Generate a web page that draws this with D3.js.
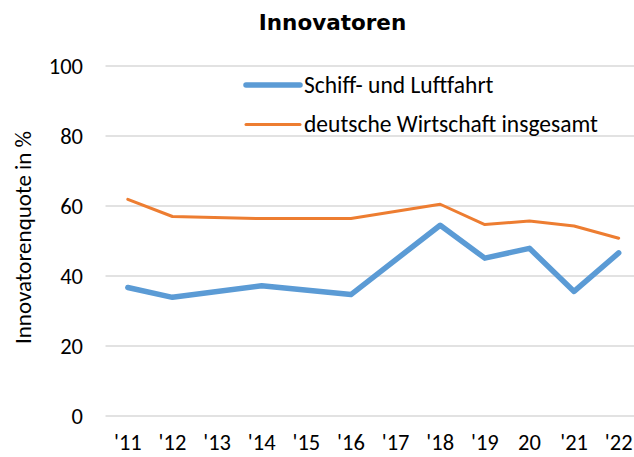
<!DOCTYPE html>
<html>
<head>
<meta charset="utf-8">
<script src="https://cdn.jsdelivr.net/npm/d3@7"></script>
<style>
  body { margin: 0; background: #fff; }
  text { font-family: Carlito, Calibri, Lato, sans-serif; fill: #000; }
</style>
</head>
<body>
<div id="chart"></div>
<script>
// categories and values (null = no survey that year)
var years = ["'11", "'12", "'13", "'14", "'15", "'16", "'17", "'18", "'19", "20", "'21", "'22"];
var schiffLuft = [36.7, 33.9, null, 37.2, null, 34.7, null, 54.5, 45.1, 47.9, 35.6, 46.6];
var gesamt = [61.9, 57.0, null, 56.4, null, 56.4, null, 60.5, 54.7, 55.7, 54.3, 50.8];
var yTicks = [0, 20, 40, 60, 80, 100];
var seriesNames = ["Schiff- und Luftfahrt", "deutsche Wirtschaft insgesamt"];
var colors = ["#5B9BD5", "#ED7D31"];

var W = 634, H = 457;
var svg = d3.select("#chart").append("svg")
    .attr("width", W)
    .attr("height", H);

var x = d3.scaleBand().domain(years).range([105.5, 641]);
var y = d3.scaleLinear().domain([0, 100]).range([416, 66]);

// gridlines
svg.append("g").selectAll("line")
    .data(yTicks)
    .enter().append("line")
        .attr("x1", 105.5)
        .attr("x2", W)
        .attr("y1", function(d) { return y(d); })
        .attr("y2", function(d) { return y(d); })
        .style("stroke", "#D9D9D9")
        .style("stroke-width", 1.5);

// y axis labels
var yAxis = svg.append("g")
    .attr("transform", "translate(91,0)")
    .call(d3.axisLeft(y).tickValues(yTicks).tickSize(0).tickPadding(8));
yAxis.select(".domain").remove();
yAxis.selectAll("text").style("font-size", "22.5px");

// x axis labels
var xAxis = svg.append("g")
    .attr("transform", "translate(0,416)")
    .call(d3.axisBottom(x).tickSize(0).tickPadding(18));
xAxis.select(".domain").remove();
xAxis.selectAll("text").style("font-size", "22.5px");

// lines
var line = d3.line()
    .x(function(d) { return x(d.year) + x.bandwidth() / 2; })
    .y(function(d) { return y(d.value); });

function points(values) {
    return years.map(function(yr, i) { return { year: yr, value: values[i] }; })
        .filter(function(d) { return d.value !== null; });
}

svg.append("path")
    .datum(points(gesamt))
    .attr("d", line)
    .style("fill", "none")
    .style("stroke", colors[1])
    .style("stroke-width", 3)
    .style("stroke-linejoin", "round")
    .style("stroke-linecap", "round");

svg.append("path")
    .datum(points(schiffLuft))
    .attr("d", line)
    .style("fill", "none")
    .style("stroke", colors[0])
    .style("stroke-width", 5.5)
    .style("stroke-linejoin", "round")
    .style("stroke-linecap", "round");

// legend
var legend = svg.append("g");
var legY = [85, 124.5];
var legWidth = [5.5, 3];
seriesNames.forEach(function(name, i) {
    legend.append("line")
        .attr("x1", 246).attr("x2", 300)
        .attr("y1", legY[i]).attr("y2", legY[i])
        .style("stroke", colors[i])
        .style("stroke-width", legWidth[i])
        .style("stroke-linecap", "round");
    legend.append("text")
        .attr("x", 304)
        .attr("y", legY[i] + 7.5)
        .style("font-size", "23.5px")
        .text(name);
});

// title
svg.append("text")
    .attr("x", 332.5)
    .attr("y", 29.5)
    .attr("text-anchor", "middle")
    .style("font-family", "'DejaVu Sans', Verdana, sans-serif")
    .style("font-size", "21.5px")
    .style("font-weight", "bold")
    .text("Innovatoren");

// y axis title
svg.append("text")
    .attr("transform", "translate(31,237.5) rotate(-90)")
    .attr("text-anchor", "middle")
    .style("font-size", "23px")
    .text("Innovatorenquote in %");
</script>
</body>
</html>
